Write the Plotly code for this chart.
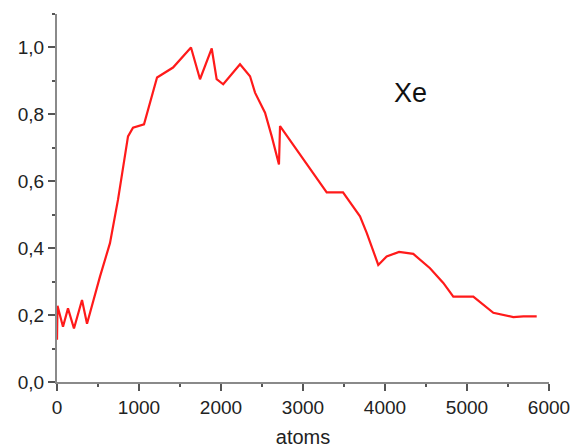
import plotly.graph_objects as go

# Data
atoms = [0, 6, 73, 134, 207, 305, 366, 524, 646, 744, 866, 927, 1061, 1220, 1415,
         1634, 1744, 1887, 1947, 2027, 2232, 2354, 2415, 2537, 2618, 2707, 2720,
         2963, 3289, 3488, 3549, 3695, 3777, 3918, 4020, 4172, 4345, 4549, 4711,
         4833, 5077, 5321, 5565, 5687, 5850]
xe = [0.126, 0.228, 0.165, 0.22, 0.16, 0.245, 0.174, 0.315, 0.415, 0.545, 0.734,
      0.76, 0.77, 0.91, 0.94, 1.0, 0.905, 0.997, 0.905, 0.89, 0.95, 0.914, 0.865,
      0.805, 0.735, 0.65, 0.765, 0.68, 0.567, 0.567, 0.545, 0.495, 0.446, 0.35,
      0.375, 0.389, 0.383, 0.34, 0.296, 0.255, 0.255, 0.207, 0.194, 0.196, 0.196]

x_tickvals = [0, 1000, 2000, 3000, 4000, 5000, 6000]
x_ticktext = ["0", "1000", "2000", "3000", "4000", "5000", "6000"]
y_tickvals = [0.0, 0.2, 0.4, 0.6, 0.8, 1.0]
y_ticktext = ["0,0", "0,2", "0,4", "0,6", "0,8", "1,0"]

series_label = "Xe"
x_title = "atoms"

FONT = "Liberation Sans, Arial, sans-serif"

fig = go.Figure()
fig.add_trace(go.Scatter(x=atoms, y=xe, mode="lines",
                         line=dict(color="#ff1a1a", width=2.2),
                         showlegend=False))

axis_common = dict(
    showline=True, linecolor="#8a8a8a", linewidth=2,
    ticks="outside", ticklen=7, tickwidth=1.5, tickcolor="#555555",
    showgrid=False, zeroline=False, automargin=False,
    tickfont=dict(family=FONT, size=19, color="#222222"),
)

fig.update_xaxes(range=[0, 6000], tickmode="array", tickvals=x_tickvals,
                 ticktext=x_ticktext,
                 minor=dict(ticks="outside", ticklen=3, tickwidth=1.5,
                            tickcolor="#555555", tick0=0, dtick=500),
                 title=dict(text=x_title, standoff=18,
                            font=dict(family=FONT, size=20, color="#222222")),
                 **axis_common)
fig.update_yaxes(range=[0, 1.1], tickmode="array", tickvals=y_tickvals,
                 ticktext=y_ticktext,
                 minor=dict(ticks="outside", ticklen=3, tickwidth=1.5,
                            tickcolor="#555555", tick0=0, dtick=0.1),
                 **axis_common)

fig.add_annotation(x=4317, y=0.865, xref="x", yref="y", text=series_label,
                   showarrow=False, xanchor="center", yanchor="middle",
                   font=dict(family=FONT, size=27, color="#111111"))

fig.update_layout(
    width=575, height=448,
    margin=dict(l=57, r=26, t=14, b=66),
    paper_bgcolor="white", plot_bgcolor="white",
    font=dict(family=FONT),
)

fig.write_html("out.html")
